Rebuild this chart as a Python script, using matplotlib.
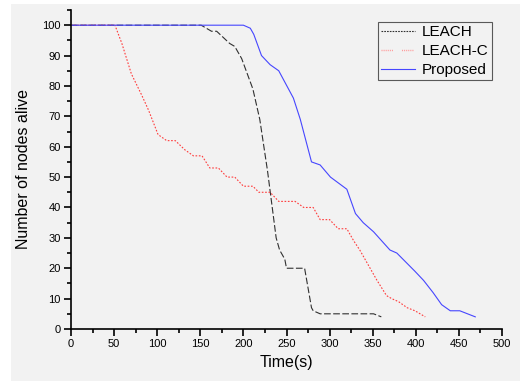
import numpy as np
import matplotlib
matplotlib.use('Agg')
import matplotlib.pyplot as plt
from matplotlib.patches import Rectangle
from matplotlib.lines import Line2D
from matplotlib.ticker import MultipleLocator

plt.rcParams['font.family'] = ['Liberation Sans', 'DejaVu Sans']

# LEACH
t_leach = [0, 151, 163, 169, 184, 190, 198, 211, 219, 228, 233, 238, 242, 248, 250, 271, 279, 281, 289, 351, 360]
n_leach = [100, 100, 98, 98, 94, 93, 89, 79, 69, 52, 41, 30, 26, 23, 20, 20, 7, 6, 5, 5, 4]

# LEACH-C
t_leachc = [0, 51, 59, 70, 82, 90, 101, 111, 121, 132, 142, 152, 161, 171, 181, 190, 200, 211, 218, 231,
            241, 260, 270, 281, 289, 300, 310, 320, 328, 335, 347, 355, 366, 372, 380, 390, 399, 411]
n_leachc = [100, 100, 94, 84, 77, 72, 64, 62, 62, 59, 57, 57, 53, 53, 50, 50, 47, 47, 45, 45,
            42, 42, 40, 40, 36, 36, 33, 33, 29, 26, 20, 16, 11, 10, 9, 7, 6, 4]

# Proposed
t_prop = [0, 200, 208, 212, 221, 231, 241, 258, 266, 279, 289, 301, 320, 330, 339, 351, 370, 378,
          399, 409, 420, 430, 440, 451, 469]
n_prop = [100, 100, 99, 97, 90, 87, 85, 76, 69, 55, 54, 50, 46, 38, 35, 32, 26, 25,
          19, 16, 12, 8, 6, 6, 4]

labels = ['LEACH', 'LEACH-C', 'Proposed']

fig = plt.figure(figsize=(5.2, 3.81), dpi=100, facecolor='white')
fig.patches.append(Rectangle((11 / 520, 0), 1, 1 - 4 / 381, transform=fig.transFigure,
                             facecolor='#f2f2f2', edgecolor='none', zorder=-10))
ax = fig.add_axes([71 / 520, 1 - 329 / 381, 431 / 520, 319 / 381])
ax.set_facecolor('none')

ax.plot(t_leach, n_leach, color='#303030', lw=0.8, dashes=(6, 2.2))
ax.plot(t_leachc, n_leachc, color='#ff3c3c', lw=0.8, dashes=(1.5, 1.5))
ax.plot(t_prop, n_prop, color='#4646ff', lw=0.8)

ax.set_xlim(0, 500)
ax.set_ylim(0, 105)
ax.xaxis.set_major_locator(MultipleLocator(50))
ax.xaxis.set_minor_locator(MultipleLocator(25))
ax.yaxis.set_minor_locator(MultipleLocator(5))
ax.set_yticks(range(0, 101, 10))
for s in ['top', 'right']:
    ax.spines[s].set_visible(False)
for s in ['left', 'bottom']:
    ax.spines[s].set_linewidth(1.2)
ax.tick_params(which='major', direction='out', length=5, width=1.2, labelsize=8, pad=2.5)
ax.tick_params(which='minor', direction='out', length=3, width=1.2)

ax.set_xlabel('Time(s)', fontsize=11.5, labelpad=4)
ax.set_ylabel('Number of nodes alive', fontsize=11.5, labelpad=8)

handles = [
    Line2D([], [], color='#303030', lw=0.8, dashes=(1.5, 1)),
    Line2D([], [], color='#ff9a9a', lw=1.0, dashes=(0.75, 0.75, 0.75, 0.75, 0.75, 0.75, 0.75, 0.75,
                                                   0.75, 0.75, 0.75, 6.5)),
    Line2D([], [], color='#4646ff', lw=0.8),
]
leg = ax.legend(handles, labels, loc='upper right', bbox_to_anchor=(492 / 520, 1 - 22 / 381),
                bbox_transform=fig.transFigure, fontsize=11, frameon=True, fancybox=False,
                handlelength=2.2, borderpad=0.2, labelspacing=0.33, handletextpad=0.5,
                borderaxespad=0)
leg.get_frame().set_edgecolor('#333333')
leg.get_frame().set_linewidth(0.8)
leg.get_frame().set_facecolor('#f2f2f2')

fig.savefig('out.png', dpi=100, facecolor=fig.get_facecolor())
